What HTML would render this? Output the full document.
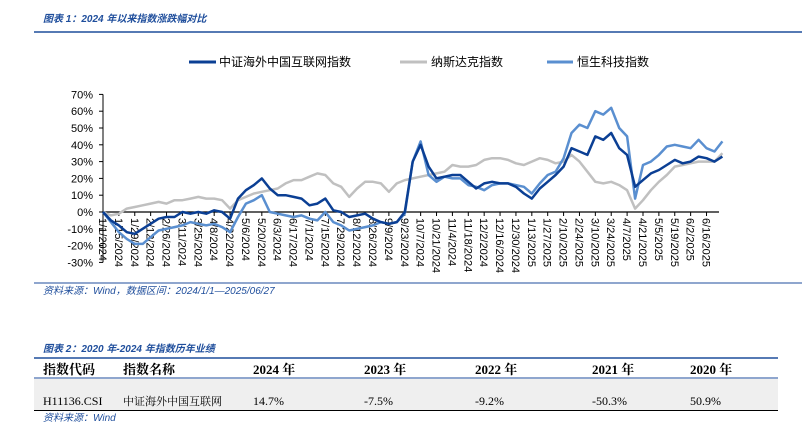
<!DOCTYPE html>
<html><head><meta charset="utf-8"><style>
body{margin:0;background:#fff;width:802px;height:443px;overflow:hidden}
svg{display:block}
.cap{font-family:"Liberation Sans","Noto Sans CJK SC",sans-serif;font-style:italic;font-size:10px;fill:#1f4e9c}
.ax{font-family:"Liberation Sans","Noto Sans CJK SC",sans-serif;font-size:11px;fill:#000}
.lg{font-family:"Liberation Sans","Noto Sans CJK SC",sans-serif;font-size:12px;fill:#000}
.th{font-family:"Liberation Serif","Noto Serif CJK SC",serif;font-size:13px;font-weight:bold;fill:#000}
.td{font-family:"Liberation Serif","Noto Serif CJK SC",serif;font-size:12px;fill:#000}
</style></head><body>
<svg id="c" width="802" height="443">
<text class="cap" x="43" y="22" font-weight="bold">图表 1：2024 年以来指数涨跌幅对比</text>
<line x1="34" y1="32" x2="802" y2="32" stroke="#1f4e9c" stroke-width="1.5"/>
<g>
<g><line x1="189" y1="62" x2="216" y2="62" stroke="#0b3f94" stroke-width="3"/><text class="lg" x="219" y="66">中证海外中国互联网指数</text></g>
<g><line x1="400" y1="62" x2="427" y2="62" stroke="#c0c0c0" stroke-width="3"/><text class="lg" x="431" y="66">纳斯达克指数</text></g>
<g><line x1="547" y1="62" x2="573" y2="62" stroke="#5a8fd0" stroke-width="3"/><text class="lg" x="577" y="66">恒生科技指数</text></g>
</g>
<g id="plot"></g>
<line x1="34" y1="283" x2="802" y2="283" stroke="#1f4e9c" stroke-width="1"/>
<text class="cap" x="43" y="294">资料来源：Wind，数据区间：2024/1/1—2025/06/27</text>
<text class="cap" x="43" y="352" font-weight="bold">图表 2：2020 年-2024 年指数历年业绩</text>
<g>
<line x1="34" y1="358" x2="778" y2="358" stroke="#1f4e9c" stroke-width="1.5"/>
<g>
<text class="th" x="43" y="374">指数代码</text><text class="th" x="123" y="374">指数名称</text>
<text class="th" x="253" y="374">2024 年</text><text class="th" x="364" y="374">2023 年</text>
<text class="th" x="475" y="374">2022 年</text><text class="th" x="592" y="374">2021 年</text><text class="th" x="690" y="374">2020 年</text>
</g>
<line x1="34" y1="378" x2="778" y2="378" stroke="#1f4e9c" stroke-width="1"/>
<rect x="34" y="379" width="744" height="31" fill="#efefef"/>
<g>
<text class="td" x="43" y="405">H11136.CSI</text><text class="td" x="123" y="405" style="font-size:11px">中证海外中国互联网</text>
<text class="td" x="253" y="405">14.7%</text><text class="td" x="364" y="405">-7.5%</text>
<text class="td" x="475" y="405">-9.2%</text><text class="td" x="592" y="405">-50.3%</text><text class="td" x="690" y="405">50.9%</text>
</g>
<line x1="34" y1="410.5" x2="778" y2="410.5" stroke="#000" stroke-width="1"/>
</g>
<text class="cap" x="43" y="421">资料来源：Wind</text>
</svg>
<script>
const yTicks=[70,60,50,40,30,20,10,0,-10,-20,-30];
const tickLabels=["1/1/2024","1/15/2024","1/29/2024","2/12/2024","2/26/2024","3/11/2024","3/25/2024","4/8/2024","4/22/2024","5/6/2024","5/20/2024","6/3/2024","6/17/2024","7/1/2024","7/15/2024","7/29/2024","8/12/2024","8/26/2024","9/9/2024","9/23/2024","10/7/2024","10/21/2024","11/4/2024","11/18/2024","12/2/2024","12/16/2024","12/30/2024","1/13/2025","1/27/2025","2/10/2025","2/24/2025","3/10/2025","3/24/2025","4/7/2025","4/21/2025","5/5/2025","5/19/2025","6/2/2025","6/16/2025"];
const internet=[0,-5,-8,-12,-13,-10,-7,-4,-3,-3,0,-1,0,-1,1,0,-4,8,13,16,20,14,10,10,9,8,4,5,8,1,0,-3,-2,-1,-4,-6,-7,-6,0,30,40,27,20,21,22,22,18,14,17,18,17,17,15,11,8,14,18,22,27,38,36,34,45,43,47,38,34,15,19,23,25,28,31,29,30,33,32,30,33];
const hstech=[0,-6,-12,-16,-19,-19,-15,-11,-10,-9,-8,-6,-7,-8,-7,-9,-12,-3,5,7,10,0,-1,-2,-3,-2,-4,-5,0,-6,-8,-11,-10,-9,-8,-6,-7,-6,-1,30,42,22,18,21,20,20,16,15,13,16,17,17,16,15,11,17,22,24,32,47,52,50,60,58,62,50,45,8,28,30,34,39,40,39,38,43,38,36,42];
const nasdaq=[0,-2,-1,2,3,4,5,6,5,7,7,8,9,8,8,7,2,7,9,11,12,13,14,17,19,19,21,23,22,17,15,9,14,18,18,17,12,17,19,20,21,22,23,24,28,27,27,28,31,32,32,31,29,28,30,32,31,29,30,34,30,24,18,17,18,16,13,2,7,13,18,22,27,28,29,30,30,30,35];
const NS="http://www.w3.org/2000/svg";
const X0=103,X1=719,Y0=212,PX10=16.8,WEEK=7*616/543;
const xw=w=>X0+w*WEEK;
const yv=v=>Y0-v*PX10/10;
const g=document.getElementById('plot');
function mk(t,a){const e=document.createElementNS(NS,t);for(const k in a)e.setAttribute(k,a[k]);g.appendChild(e);return e;}
let ya=mk('line',{x1:X0,y1:yv(70),x2:X0,y2:yv(-30),stroke:'#000','stroke-width':1});


yTicks.forEach(v=>{
 const t=mk('line',{x1:X0-4,y1:yv(v),x2:X0,y2:yv(v),stroke:'#000'});
 
 
 const l=mk('text',{x:X0-10,y:yv(v)+4,'text-anchor':'end',class:'ax'});
 l.textContent=v+'%';
 
 
});
let xa=mk('line',{x1:X0,y1:Y0,x2:X1,y2:Y0,stroke:'#000','stroke-width':1.2});


tickLabels.forEach((s,i)=>{
 const x=xw(i*2);
 const t=mk('line',{x1:x,y1:Y0,x2:x,y2:Y0+4,stroke:'#000'});
 
 
 const l=mk('text',{x:0,y:0,class:'ax',transform:`translate(${x-4},${Y0+6}) rotate(90)`});
 l.textContent=s;
 
 
});
function series(arr,color,name){
 const p=mk('polyline',{points:arr.map((v,i)=>xw(i).toFixed(1)+','+yv(v).toFixed(1)).join(' '),fill:'none',stroke:color,'stroke-width':2.5,'stroke-linejoin':'round'});
 
 
}
series(nasdaq,'#c0c0c0','nasdaq-line');
series(hstech,'#5a8fd0','hstech-line');
series(internet,'#0b3f94','internet-index-line');
</script>
</body></html>
